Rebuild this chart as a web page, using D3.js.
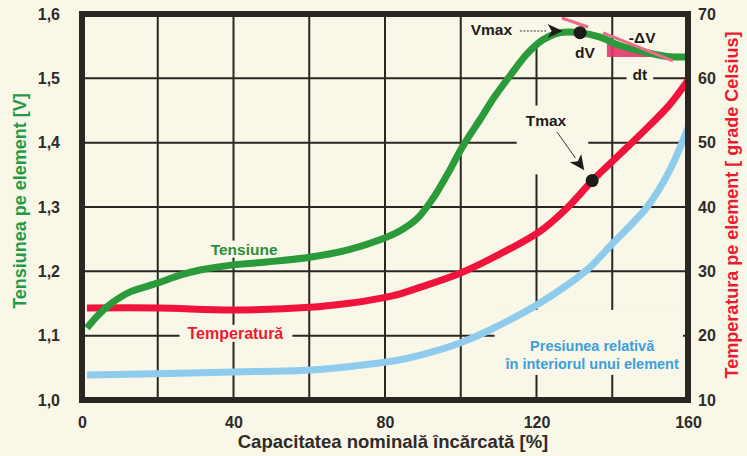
<!DOCTYPE html>
<html><head><meta charset="utf-8">
<script src="https://cdn.jsdelivr.net/npm/d3@7"></script>
<style>
html,body{margin:0;padding:0;background:#f9f7e7;}
svg{display:block;font-family:"Liberation Sans",Arial,sans-serif;font-weight:bold;}
</style></head>
<body>
<svg id="c" width="747" height="456"></svg>
<script>
// ---- data ----
const xTicks = [0, 40, 80, 120, 160];
const xGrid = [20, 40, 60, 80, 100, 120, 140];
const vTicks = [1.0, 1.1, 1.2, 1.3, 1.4, 1.5, 1.6];
const vTickLabels = ["1,0", "1,1", "1,2", "1,3", "1,4", "1,5", "1,6"];
const tTicks = [10, 20, 30, 40, 50, 60, 70];

// Tensiune [V]
const tensX = [1.3, 4.75, 8.2, 12.7, 20.1, 25.9, 31.2, 39.9, 48.8, 60.2, 70, 78.7, 84, 88.5, 92.5, 96.4, 100.6, 105.1, 109, 113, 117.5, 121.7, 126.2, 131.5, 136.8, 142, 149.2, 154.5, 160];
const tensV = [1.112, 1.135, 1.152, 1.168, 1.182, 1.194, 1.202, 1.210, 1.2145, 1.222, 1.233, 1.249, 1.263, 1.282, 1.312, 1.350, 1.395, 1.436, 1.472, 1.504, 1.538, 1.560, 1.571, 1.571, 1.564, 1.551, 1.540, 1.534, 1.533];

// Temperatura [°C]
const tempX = [1.3, 20.1, 39.9, 60.2, 70, 78.7, 84, 89.2, 99.8, 110.4, 120.9, 128, 134.9, 142, 149.2, 155, 160];
const tempT = [24.3, 24.3, 24.0, 24.4, 25.0, 25.8, 26.5, 27.5, 29.7, 32.7, 36.2, 39.8, 44.2, 48.2, 52.3, 55.8, 59.7];

// Presiunea relativă (plotted on voltage scale units)
const presX = [1.3, 39.9, 60.2, 72, 84, 92, 99.8, 107.7, 120.9, 133.3, 140.2, 149.2, 155, 160];
const presV = [1.0389, 1.0435, 1.0466, 1.0530, 1.0625, 1.0740, 1.0886, 1.1088, 1.1508, 1.2021, 1.2441, 1.3000, 1.3550, 1.4228];

// annotation points (data units)
const vmaxPt = {x: 131.5, v: 1.571};
const tmaxPt = {x: 134.7, t: 44.1};
const tangent1 = [[126.7, 1.5938], [133.6, 1.5798]];
const tangent2 = [[137.6, 1.5705], [156.0, 1.5270]];
const dvTriangle = [[138.6, 1.5581], [138.6, 1.5332], [153.9, 1.5332]];
const vmaxArrow = [[115.6, 1.5736], [126.9, 1.5736]];
const tmaxArrow = [[125.4, 1.4166], [132.6, 1.3570]];

// ---- chart ----
const svg = d3.select("#c");
const W = 747, H = 456;
const L = 82, R = 688, T = 14, B = 400;
const bg = "#f9f7e7";
const x = d3.scaleLinear().domain([0, 160]).range([L, R]);
const yV = d3.scaleLinear().domain([1.0, 1.6]).range([B, T]);
const yT = d3.scaleLinear().domain([10, 70]).range([B, T]);

svg.append("rect").attr("width", W).attr("height", H).attr("fill", bg);

const grid = svg.append("g").attr("stroke", "#2a2622").attr("stroke-width", 2);
xGrid.forEach(d => grid.append("line").attr("x1", x(d)).attr("x2", x(d)).attr("y1", T).attr("y2", B));
vTicks.slice(1, -1).forEach(d => grid.append("line").attr("x1", L).attr("x2", R).attr("y1", yV(d)).attr("y2", yV(d)));

// layers
const gBreak = svg.append("g");
const gBelow = svg.append("g");
const gLines = svg.append("g");
const gAnn = svg.append("g");

function breakBox(node, pl, pr, pt, pb) {
  const b = node.getBBox();
  gBreak.append("rect").attr("x", b.x - pl).attr("y", b.y - pt)
    .attr("width", b.width + pl + pr).attr("height", b.height + pt + pb).attr("fill", bg);
}

// pink triangle
gBelow.append("path")
  .attr("d", d3.line()(dvTriangle.map(p => [x(p[0]), yV(p[1])])) + "Z")
  .attr("fill", "#e4336d").attr("opacity", 0.9);

const lineV = d3.line().x(d => x(d[0])).y(d => yV(d[1])).curve(d3.curveCatmullRom.alpha(0.5));
const lineT = d3.line().x(d => x(d[0])).y(d => yT(d[1])).curve(d3.curveCatmullRom.alpha(0.5));

gLines.append("path").datum(presX.map((d, i) => [d, presV[i]])).attr("d", lineV)
  .attr("fill", "none").attr("stroke", "#8ecbec").attr("stroke-width", 7).attr("stroke-linecap", "butt");
gLines.append("path").datum(tempX.map((d, i) => [d, tempT[i]])).attr("d", lineT)
  .attr("fill", "none").attr("stroke", "#f0143c").attr("stroke-width", 7).attr("stroke-linecap", "butt");
gLines.append("path").datum(tensX.map((d, i) => [d, tensV[i]])).attr("d", lineV)
  .attr("fill", "none").attr("stroke", "#2b9a3a").attr("stroke-width", 7).attr("stroke-linecap", "butt");

// frame
svg.append("rect").attr("x", L).attr("y", T).attr("width", R - L).attr("height", B - T)
  .attr("fill", "none").attr("stroke", "#2a2622").attr("stroke-width", 6);

// tangents
[tangent1, tangent2].forEach(tg => gAnn.append("line")
  .attr("x1", x(tg[0][0])).attr("y1", yV(tg[0][1])).attr("x2", x(tg[1][0])).attr("y2", yV(tg[1][1]))
  .attr("stroke", "#ec6a8c").attr("stroke-width", 3));

// dots
gAnn.append("circle").attr("cx", x(vmaxPt.x)).attr("cy", yV(vmaxPt.v)).attr("r", 6.5).attr("fill", "#1e1b1a");
gAnn.append("circle").attr("cx", x(tmaxPt.x)).attr("cy", yT(tmaxPt.t)).attr("r", 6.5).attr("fill", "#1e1b1a");

function arrow(g, a, b, dashed) {
  const x1 = x(a[0]), y1 = yV(a[1]), x2 = x(b[0]), y2 = yV(b[1]);
  const ang = Math.atan2(y2 - y1, x2 - x1);
  const len = 15, wid = 7;
  const bx = x2 - len * Math.cos(ang), by = y2 - len * Math.sin(ang);
  g.append("line").attr("x1", x1).attr("y1", y1).attr("x2", bx).attr("y2", by)
    .attr("stroke", "#333").attr("stroke-width", 1).attr("stroke-dasharray", dashed ? "2,1.5" : null);
  const px = -Math.sin(ang), py = Math.cos(ang);
  g.append("path").attr("d", `M${x2},${y2}L${bx + px * wid},${by + py * wid}L${bx + 4 * Math.cos(ang)},${by + 4 * Math.sin(ang)}L${bx - px * wid},${by - py * wid}Z`)
    .attr("fill", "#1e1b1a");
}

// Vmax
const gV = gAnn.append("g");
gV.append("text").attr("x", x(108.1)).attr("y", yV(1.5767)).attr("dy", "0.36em")
  .attr("text-anchor", "middle").attr("font-size", 15.5).attr("fill", "#1e1b1a").text("Vmax");
arrow(gV, vmaxArrow[0], vmaxArrow[1], true);
breakBox(gV.node(), 4, 0, 4, 3);

// Tmax
const gTm = gAnn.append("g");
gTm.append("text").attr("x", x(122.5)).attr("y", yV(1.4353)).attr("dy", "0.36em")
  .attr("text-anchor", "middle").attr("font-size", 15.5).attr("fill", "#1e1b1a").text("Tmax");
arrow(gTm, tmaxArrow[0], tmaxArrow[1], false);
breakBox(gTm.node(), 9, 4, 6, 4);

// dV, -ΔV, dt
gAnn.append("text").attr("x", x(132.8)).attr("y", yV(1.541)).attr("dy", "0.36em")
  .attr("text-anchor", "middle").attr("font-size", 15.5).attr("fill", "#1e1b1a").text("dV");
gAnn.append("text").attr("x", x(147.9)).attr("y", yV(1.5643)).attr("dy", "0.36em")
  .attr("text-anchor", "middle").attr("font-size", 15.5).attr("fill", "#1e1b1a").text("-ΔV");
const dt = gAnn.append("text").attr("x", x(147.3)).attr("y", yV(1.5068)).attr("dy", "0.36em")
  .attr("text-anchor", "middle").attr("font-size", 15.5).attr("fill", "#1e1b1a").text("dt");
breakBox(dt.node(), 6, 6, 0, 0);

// series labels
const tens = gAnn.append("text").attr("x", x(42.8)).attr("y", yV(1.2347)).attr("dy", "0.36em")
  .attr("text-anchor", "middle").attr("font-size", 15.5).attr("fill", "#2b8f3a").text("Tensiune");
breakBox(tens.node(), 4, 4, 0, 0);
const temp = gAnn.append("text").attr("x", x(40.5)).attr("y", yV(1.104)).attr("dy", "0.36em")
  .attr("text-anchor", "middle").attr("font-size", 16).attr("fill", "#ec1a30").text("Temperatură");
breakBox(temp.node(), 8, 9, 0, 0);
const gP = gAnn.append("g").attr("font-size", 14.5).attr("fill", "#3a9fdc").attr("text-anchor", "middle");
gP.append("text").attr("x", x(134.7)).attr("y", yV(1.0845)).attr("dy", "0.36em").text("Presiunea relativă");
gP.append("text").attr("x", x(134.7)).attr("y", yV(1.0565)).attr("dy", "0.36em").text("în interiorul unui element");
breakBox(gP.node(), 10, 4, 28, 3);

// axes ticks
const tickCol = "#2e2b2a";
const gx = svg.append("g").attr("transform", `translate(0,${B + 22})`)
  .call(d3.axisBottom(x).tickValues(xTicks).tickSize(0).tickFormat(d3.format("d")));
gx.select(".domain").remove();
gx.selectAll("text").attr("font-size", 16).attr("fill", tickCol).attr("font-family", null).attr("dy", "0.36em").attr("y", 0);

const gl = svg.append("g").attr("transform", `translate(${L - 22},0)`)
  .call(d3.axisLeft(yV).tickValues(vTicks).tickSize(0).tickFormat((d, i) => vTickLabels[i]));
gl.select(".domain").remove();
gl.selectAll("text").attr("font-size", 16).attr("fill", tickCol).attr("font-family", null).attr("x", 0);

const gr = svg.append("g").attr("transform", `translate(${R + 10},0)`)
  .call(d3.axisRight(yT).tickValues(tTicks).tickSize(0).tickFormat(d3.format("d")));
gr.select(".domain").remove();
gr.selectAll("text").attr("font-size", 16).attr("fill", tickCol).attr("font-family", null).attr("x", 0);

// axis titles
svg.append("text").attr("x", 393).attr("y", 448).attr("text-anchor", "middle")
  .attr("font-size", 18.5).attr("fill", "#2e2b2a").text("Capacitatea nominală încărcată [%]");
svg.append("text").attr("transform", "translate(26,201) rotate(-90)").attr("text-anchor", "middle")
  .attr("font-size", 18).attr("fill", "#1f9b45").text("Tensiunea pe element [V]");
svg.append("text").attr("transform", "translate(738,205) rotate(-90)").attr("text-anchor", "middle")
  .attr("font-size", 18).attr("fill", "#ec1a30").text("Temperatura pe element [ grade Celsius]");
</script>
</body></html>
